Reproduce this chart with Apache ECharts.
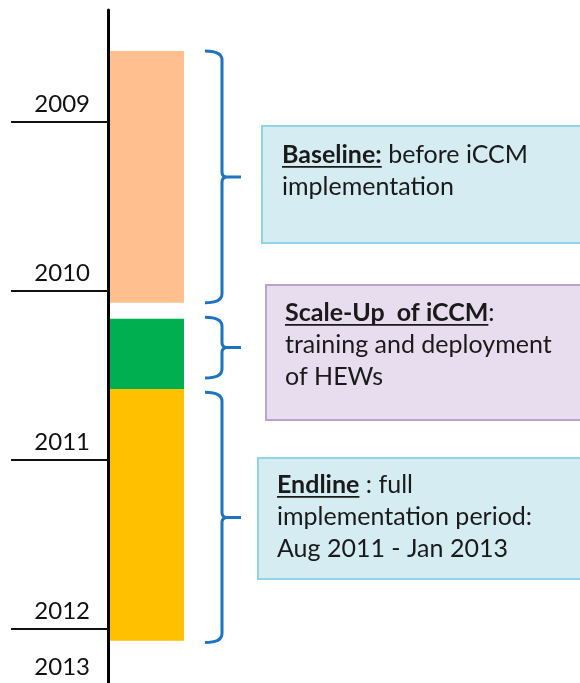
<!DOCTYPE html>
<html>
<head>
<meta charset="utf-8">
<script src="https://cdn.jsdelivr.net/npm/echarts@6/dist/echarts.min.js"></script>
<style>
html,body{margin:0;padding:0;background:#fff;}
#chart{width:580px;height:683px;}
</style>
</head>
<body>
<div id="chart"></div>
<script>
// ---- data ----
const phaseNames  = ['Baseline', 'Scale-Up of iCCM', 'Endline'];
const phaseStart  = [2009.58, 2011.165, 2011.58];   // decimal years
const phaseEnd    = [2011.07, 2011.58, 2013.07];
const braceStart  = [2009.58, 2011.155, 2011.60];
const braceEnd    = [2011.07, 2011.515, 2013.08];
const yearTicks   = [2010, 2011, 2012, 2013];        // year boundaries
const labelAbove  = ['2009', '2010', '2011', '2012'];
const labelBelow  = ['', '', '', '2013'];

// ---- styles ----
const phaseColors = ['#FFBF8F', '#00B050', '#FFC000'];
const braceColor = '#1F74C0';
const FONT = 'Lato, "Liberation Sans", sans-serif';

const chart = echarts.init(document.getElementById('chart'));

function measure(text, font) {
  const c = document.createElement('canvas').getContext('2d');
  c.font = font;
  return c.measureText(text).width;
}

const boxFont = 25;
const lineGap = 32;
function boxGraphic(x, y, h, fill, stroke, lines, textX, textY) {
  const children = [{
    type: 'rect',
    shape: { x: x, y: y, width: 400, height: h },
    style: { fill: fill, stroke: stroke, lineWidth: 2 }
  }];
  lines.forEach(function (ln, i) {
    const ly = textY + i * lineGap;
    let cx = textX;
    ln.forEach(function (p) {
      const f = (p.bold ? 'bold ' : '') + boxFont + 'px ' + FONT;
      children.push({
        type: 'text',
        style: { text: p.t, x: cx, y: ly, font: f, fill: '#1a1a1a', verticalAlign: 'middle' }
      });
      const w = measure(p.t, f);
      if (p.u) {
        children.push({
          type: 'rect',
          shape: { x: cx, y: ly + 11, width: w, height: 1.8 },
          style: { fill: '#1a1a1a' }
        });
      }
      cx += w;
    });
  });
  return { type: 'group', children: children };
}

const option = {
  animation: false,
  grid: { left: 108, right: 0, top: 10, bottom: 0 },
  xAxis: { type: 'value', min: 0, max: 1, show: false },
  yAxis: {
    type: 'value',
    inverse: true,
    min: 2009.337,
    max: 2013.32,
    splitLine: { show: false },
    axisLine: { show: true, lineStyle: { color: '#000', width: 3 } },
    axisTick: {
      show: true, customValues: yearTicks, length: 97,
      lineStyle: { color: '#111', width: 2 }
    },
    axisLabel: {
      show: true, customValues: yearTicks, margin: 18,
      align: 'right', verticalAlign: 'middle',
      fontFamily: FONT, fontSize: 24, color: '#111',
      formatter: function (v) {
        const i = yearTicks.indexOf(Math.round(v));
        const below = labelBelow[i] || ' ';
        return '{a|' + labelAbove[i] + '}\n{b|' + below + '}';
      },
      rich: {
        a: { lineHeight: 76, fontFamily: FONT, fontSize: 24, color: '#111' },
        b: { lineHeight: 36, fontFamily: FONT, fontSize: 24, color: '#111' }
      }
    }
  },
  series: [
    {
      type: 'custom',
      name: 'phases',
      data: phaseNames.map(function (n, i) { return [phaseStart[i], phaseEnd[i], i]; }),
      encode: { y: [0, 1] },
      renderItem: function (params, api) {
        const p0 = api.coord([0, api.value(0)]);
        const p1 = api.coord([0, api.value(1)]);
        return {
          type: 'rect',
          shape: { x: p0[0] + 2, y: p0[1], width: 74, height: p1[1] - p0[1] },
          style: { fill: phaseColors[api.value(2)] }
        };
      }
    },
    {
      type: 'custom',
      name: 'braces',
      data: braceStart.map(function (s, i) { return [s, braceEnd[i]]; }),
      encode: { y: [0, 1] },
      renderItem: function (params, api) {
        const p0 = api.coord([0, api.value(0)]);
        const p1 = api.coord([0, api.value(1)]);
        const ax = p0[0];
        const xa = ax + 97, xv = ax + 114, xt = ax + 133;
        const yT = p0[1], yB = p1[1], yM = (yT + yB) / 2;
        const d = 'M' + xa + ' ' + yT + ' Q' + xv + ' ' + yT + ' ' + xv + ' ' + (yT + 9) +
          ' L' + xv + ' ' + (yM - 5) + ' Q' + xv + ' ' + yM + ' ' + (xv + 5) + ' ' + yM +
          ' L' + xt + ' ' + yM +
          ' M' + (xv + 5) + ' ' + yM + ' Q' + xv + ' ' + yM + ' ' + xv + ' ' + (yM + 5) +
          ' L' + xv + ' ' + (yB - 9) + ' Q' + xv + ' ' + yB + ' ' + xa + ' ' + yB;
        return {
          type: 'path',
          shape: { pathData: d },
          style: { fill: 'none', stroke: braceColor, lineWidth: 3 }
        };
      }
    }
  ],
  graphic: [
    boxGraphic(262, 126, 117, '#D5ECF2', '#8ED5E5', [
      [{ t: 'Baseline:', bold: true, u: true }, { t: ' before iCCM' }],
      [{ t: 'implementation' }]
    ], 282, 155),
    boxGraphic(266, 285, 135, '#E7DDEE', '#B9A3CF', [
      [{ t: 'Scale-Up  of iCCM', bold: true, u: true }, { t: ':' }],
      [{ t: 'training and deployment' }],
      [{ t: 'of HEWs' }]
    ], 285, 313),
    boxGraphic(258, 458, 121, '#D5ECF2', '#8ED5E5', [
      [{ t: 'Endline', bold: true, u: true }, { t: ' : full' }],
      [{ t: 'implementation period:' }],
      [{ t: 'Aug 2011 - Jan 2013' }]
    ], 277, 485)
  ]
};
chart.setOption(option);
</script>
</body>
</html>
